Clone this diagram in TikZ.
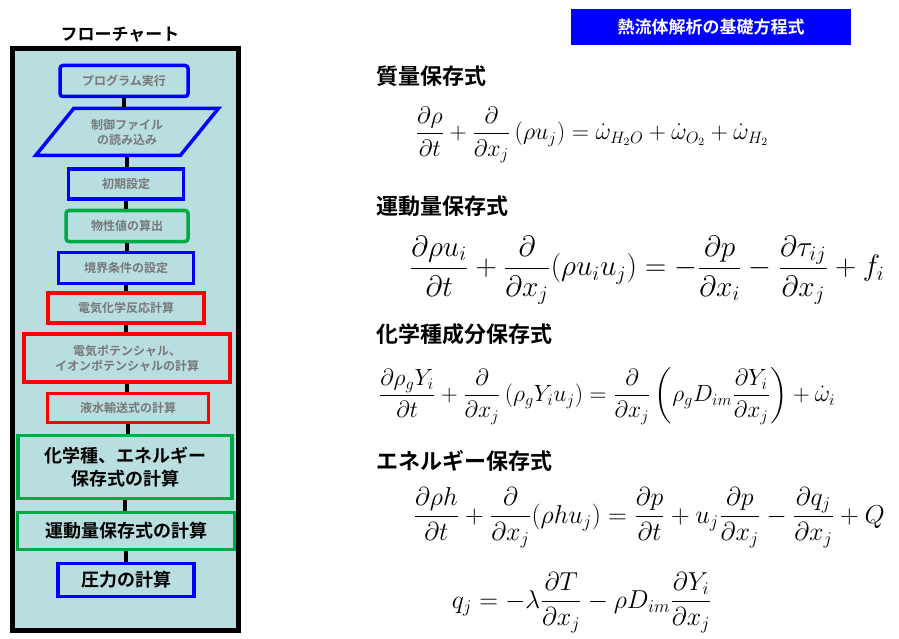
\documentclass[tikz,border=0pt]{standalone}
\usepackage{amsmath}
\usepackage{fontspec}
\newfontfamily\jp{Noto Sans CJK JP Bold}
\usetikzlibrary{shapes.geometric}
\definecolor{panel}{RGB}{184,222,224}
\definecolor{fgreen}{RGB}{0,170,70}
\definecolor{tgray}{RGB}{120,120,120}
\tikzset{
    stepbox/.style={draw=#1, line width=3.5pt, fill=panel, font=\jp\fontsize{12}{15}\selectfont, text=tgray, align=center},
    bigbox/.style={draw=#1, line width=3.5pt, fill=panel, font=\jp\fontsize{18}{23}\selectfont, text=black, align=center},
    heading/.style={anchor=west, font=\jp\fontsize{22}{24}\selectfont},
    link/.style={line width=4pt},
    eqn/.style={font=\fontsize{17}{20}\selectfont, scale=#1},
}
\begin{document}
\begin{tikzpicture}[x=1pt, y=-1pt]
\useasboundingbox (0,0) rectangle (899,639);
% flowchart panel
\node (fctitle) at (120,35) {\jp\fontsize{17}{19}\selectfont フローチャート};
\draw[line width=5pt, fill=panel] (12,49) rectangle (238,630);
\node[stepbox=blue, rounded corners=3pt, minimum width=128pt, minimum height=31pt] (run) at (124,81) {プログラム実行};
\node[stepbox=blue, trapezium, trapezium stretches=true, trapezium left angle=47, trapezium right angle=133, minimum width=183pt, minimum height=47pt, inner sep=1pt] (read) at (127,132) {制御ファイル\\の読み込み};
\node[stepbox=blue, minimum width=115pt, minimum height=30pt] (init) at (126,184) {初期設定};
\node[stepbox=fgreen, rounded corners=3pt, minimum width=122pt, minimum height=31pt] (prop) at (127,226) {物性値の算出};
\node[stepbox=blue, minimum width=135pt, minimum height=31pt] (bc) at (126,268) {境界条件の設定};
\node[stepbox=red, minimum width=156pt, minimum height=30pt] (echem) at (126,308) {電気化学反応計算};
\node[stepbox=red, minimum width=206pt, minimum height=48pt] (pot) at (127,358) {電気ポテンシャル、\\イオンポテンシャルの計算};
\node[stepbox=red, minimum width=161pt, minimum height=29pt] (water) at (128,408) {液水輸送式の計算};
\node[bigbox=fgreen, minimum width=214pt, minimum height=63pt] (species) at (125,467) {化学種、エネルギー\\保存式の計算};
\node[bigbox=fgreen, minimum width=217pt, minimum height=37pt] (mom) at (126,531) {運動量保存式の計算};
\node[bigbox=blue, minimum width=136pt, minimum height=33pt] (press) at (126,580) {圧力の計算};
\foreach \a/\b in {run/read, read/init, init/prop, prop/bc, bc/echem, echem/pot, pot/water, water/species, species/mom, mom/press}
    \draw[link] (\a.south) -- (\a.south |- \b.north);
% equations
\node[fill=blue, text=white, font=\jp\fontsize{17}{19}\selectfont, minimum width=280pt, minimum height=36pt] (eqtitle) at (711,27) {熱流体解析の基礎方程式};
\node[heading] (mass) at (373,76) {質量保存式};
\node[eqn=1.38] (masseq) at (592,135) {$\displaystyle \frac{\partial\rho}{\partial t}+\frac{\partial}{\partial x_j}\left(\rho u_j\right)=\dot\omega_{H_2O}+\dot\omega_{O_2}+\dot\omega_{H_2}$};
\node[heading] (momh) at (373,206) {運動量保存式};
\node[eqn=1.7] (momeq) at (647,270) {$\displaystyle \frac{\partial\rho u_i}{\partial t}+\frac{\partial}{\partial x_j}(\rho u_iu_j)=-\frac{\partial p}{\partial x_i}-\frac{\partial\tau_{ij}}{\partial x_j}+f_i$};
\node[heading] (spech) at (373,334) {化学種成分保存式};
\node[eqn=1.36] (speceq) at (607,396) {$\displaystyle \frac{\partial\rho_gY_i}{\partial t}+\frac{\partial}{\partial x_j}\left(\rho_gY_iu_j\right)=\frac{\partial}{\partial x_j}\left(\rho_gD_{im}\frac{\partial Y_i}{\partial x_j}\right)+\dot\omega_i$};
\node[heading] (enh) at (373,461) {エネルギー保存式};
\node[eqn=1.5] (eneq) at (649,518) {$\displaystyle \frac{\partial\rho h}{\partial t}+\frac{\partial}{\partial x_j}(\rho hu_j)=\frac{\partial p}{\partial t}+u_j\frac{\partial p}{\partial x_j}-\frac{\partial q_j}{\partial x_j}+Q$};
\node[eqn=1.5] (qeq) at (582,603) {$\displaystyle q_j=-\lambda\frac{\partial T}{\partial x_j}-\rho D_{im}\frac{\partial Y_i}{\partial x_j}$};
\end{tikzpicture}
\end{document}
